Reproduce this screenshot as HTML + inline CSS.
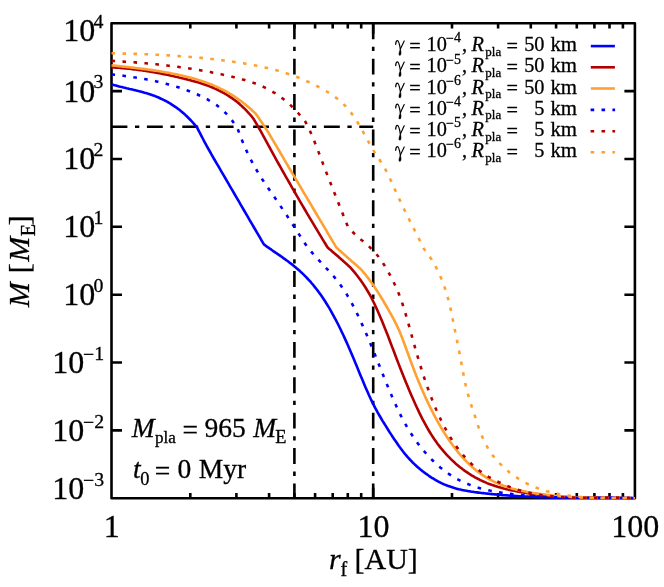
<!DOCTYPE html>
<html><head><meta charset="utf-8"><title>M vs r_f</title>
<style>html,body{margin:0;padding:0;background:#fff;width:664px;height:587px;overflow:hidden;}svg{display:block;will-change:transform;font-family:"Liberation Serif",serif;}text{fill:#000;stroke:#000;stroke-width:0.3px;}.i{font-style:italic;}</style></head><body>
<svg width="664" height="587" viewBox="0 0 664 587">
<rect width="664" height="587" fill="#fff"/>
<defs><clipPath id="c"><rect x="110.2" y="22.0" width="526.0" height="477.5"/></clipPath></defs>
<g stroke="#000" stroke-width="2.6" fill="none">
<rect x="111.5" y="23.3" width="523.4" height="474.9" stroke-linejoin="round"/>
<path d="M111.5 430.4h10.5M634.9 430.4h-10.5M111.5 362.5h10.5M634.9 362.5h-10.5M111.5 294.7h10.5M634.9 294.7h-10.5M111.5 226.8h10.5M634.9 226.8h-10.5M111.5 159.0h10.5M634.9 159.0h-10.5M111.5 91.1h10.5M634.9 91.1h-10.5M190.3 498.2v-5.2M190.3 23.3v5.2M236.4 498.2v-5.2M236.4 23.3v5.2M269.1 498.2v-5.2M269.1 23.3v5.2M294.4 498.2v-5.2M294.4 23.3v5.2M315.1 498.2v-5.2M315.1 23.3v5.2M332.7 498.2v-5.2M332.7 23.3v5.2M347.8 498.2v-5.2M347.8 23.3v5.2M361.2 498.2v-5.2M361.2 23.3v5.2M452.0 498.2v-5.2M452.0 23.3v5.2M498.1 498.2v-5.2M498.1 23.3v5.2M530.8 498.2v-5.2M530.8 23.3v5.2M556.1 498.2v-5.2M556.1 23.3v5.2M576.8 498.2v-5.2M576.8 23.3v5.2M594.4 498.2v-5.2M594.4 23.3v5.2M609.5 498.2v-5.2M609.5 23.3v5.2M622.9 498.2v-5.2M622.9 23.3v5.2M373.2 498.2v-10.5M373.2 23.3v10.5"/>
</g>
<g stroke="#000" stroke-width="2.6" fill="none" stroke-dasharray="15.9 7.6 4.3 7.6">
<path d="M111.5 126.7H373.2" stroke-dashoffset="0.0"/>
<path d="M294.4 23.3V498.2" stroke-dashoffset="0.0"/>
<path d="M373.2 23.3V498.2" stroke-dashoffset="0.0"/>
</g>
<g clip-path="url(#c)" fill="none" stroke-width="2.6" stroke-linejoin="round">
<path d="M111.5 84.4 L113.0 84.8 L114.5 85.2 L116.0 85.6 L117.5 86.0 L119.0 86.4 L120.5 86.8 L122.0 87.1 L123.5 87.5 L125.0 87.8 L126.5 88.2 L128.0 88.5 L129.5 88.9 L131.0 89.2 L132.5 89.6 L134.0 89.9 L135.5 90.3 L137.0 90.7 L138.5 91.1 L140.0 91.4 L141.5 91.8 L143.0 92.2 L144.5 92.7 L146.0 93.1 L147.5 93.6 L149.0 94.0 L150.5 94.5 L152.0 95.0 L153.5 95.6 L155.0 96.1 L156.5 96.7 L158.0 97.3 L159.5 98.0 L161.0 98.7 L162.5 99.4 L164.0 100.1 L165.5 100.9 L167.0 101.7 L168.5 102.5 L170.0 103.4 L171.5 104.3 L173.0 105.3 L174.5 106.3 L176.0 107.3 L177.5 108.4 L179.0 109.6 L180.5 110.8 L182.0 112.0 L183.5 113.3 L185.0 114.6 L186.5 116.0 L188.0 117.5 L189.5 119.0 L191.0 120.5 L192.5 122.2 L194.0 123.8 L195.5 125.6 L197.0 127.4 L198.5 130.3 L200.0 133.2 L201.5 136.1 L203.0 139.0 L204.5 141.8 L206.0 144.6 L207.5 147.3 L209.0 150.0 L210.5 152.7 L212.0 155.3 L213.5 158.0 L215.0 160.5 L216.5 163.1 L218.0 165.7 L219.5 168.2 L221.0 170.8 L222.5 173.3 L224.0 175.9 L225.5 178.5 L227.0 181.1 L228.5 183.7 L230.0 186.3 L231.5 188.8 L233.0 191.4 L234.5 194.0 L236.0 196.6 L237.5 199.2 L239.0 201.7 L240.5 204.3 L242.0 206.9 L243.5 209.5 L245.0 212.0 L246.5 214.6 L248.0 217.2 L249.5 219.8 L251.0 222.3 L252.5 224.9 L254.0 227.5 L255.5 230.0 L257.0 232.6 L258.5 235.2 L260.0 237.7 L261.5 240.3 L263.0 242.9 L263.9 244.4 L265.4 245.5 L266.9 246.6 L268.4 247.6 L269.9 248.7 L271.4 249.7 L272.9 250.8 L274.4 251.8 L275.9 252.8 L277.4 253.9 L278.9 254.9 L280.4 255.9 L281.9 257.0 L283.4 258.1 L284.9 259.1 L286.4 260.2 L287.9 261.3 L289.4 262.5 L290.9 263.6 L292.4 264.8 L293.9 266.0 L295.4 267.2 L296.9 268.5 L298.4 269.8 L299.9 271.1 L301.4 272.5 L302.9 273.9 L304.4 275.4 L305.9 276.9 L307.4 278.5 L308.9 280.1 L310.4 281.7 L311.9 283.5 L313.4 285.2 L314.9 287.1 L316.4 289.0 L317.9 290.9 L319.4 293.0 L320.9 295.1 L322.4 297.3 L323.9 299.5 L325.4 301.8 L326.9 304.2 L328.4 306.7 L329.9 309.2 L331.4 311.9 L332.9 314.6 L334.4 317.3 L335.9 320.1 L337.4 323.0 L338.9 326.0 L340.4 329.0 L341.9 332.2 L343.4 335.3 L344.9 338.6 L346.4 341.9 L347.9 345.2 L349.4 348.7 L350.9 352.2 L352.4 355.7 L353.9 359.3 L355.4 363.0 L356.9 366.6 L358.4 370.3 L359.9 373.9 L361.4 377.5 L362.9 381.1 L364.4 384.7 L365.9 388.2 L367.4 391.6 L368.9 395.0 L370.4 398.2 L371.9 401.4 L373.4 404.4 L374.9 407.3 L376.4 410.1 L377.9 412.9 L379.4 415.5 L380.9 418.0 L382.4 420.6 L383.9 423.0 L385.4 425.4 L386.9 427.8 L388.4 430.2 L389.9 432.6 L391.4 434.9 L392.9 437.2 L394.4 439.4 L395.9 441.6 L397.4 443.8 L398.9 446.0 L400.4 448.0 L401.9 450.0 L403.4 452.0 L404.9 453.9 L406.4 455.6 L407.9 457.4 L409.4 459.0 L410.9 460.6 L412.4 462.2 L413.9 463.6 L415.4 465.1 L416.9 466.4 L418.4 467.7 L419.9 469.0 L421.4 470.2 L422.9 471.4 L424.4 472.6 L425.9 473.7 L427.4 474.7 L428.9 475.8 L430.4 476.8 L431.9 477.8 L433.4 478.7 L434.9 479.6 L436.4 480.5 L437.9 481.3 L439.4 482.1 L440.9 482.9 L442.4 483.6 L443.9 484.3 L445.4 484.9 L446.9 485.5 L448.4 486.1 L449.9 486.6 L451.4 487.1 L452.9 487.6 L454.4 488.1 L455.9 488.5 L457.4 488.9 L458.9 489.3 L460.4 489.6 L461.9 489.9 L463.4 490.2 L464.9 490.5 L466.4 490.8 L467.9 491.1 L469.4 491.3 L470.9 491.6 L472.4 491.8 L473.9 492.0 L475.4 492.2 L476.9 492.4 L478.4 492.6 L479.9 492.8 L481.4 493.0 L482.9 493.1 L484.4 493.3 L485.9 493.5 L487.4 493.6 L488.9 493.8 L490.4 494.0 L491.9 494.1 L493.4 494.3 L494.9 494.4 L496.4 494.5 L497.9 494.7 L499.4 494.8 L500.9 494.9 L502.4 495.1 L503.9 495.2 L505.4 495.3 L506.9 495.4 L508.4 495.5 L509.9 495.6 L511.4 495.7 L512.9 495.8 L514.4 495.9 L515.9 496.0 L517.4 496.1 L518.9 496.2 L520.4 496.3 L521.9 496.4 L523.4 496.4 L524.9 496.5 L526.4 496.6 L527.9 496.6 L529.4 496.7 L530.9 496.8 L532.4 496.8 L533.9 496.9 L535.4 496.9 L536.9 497.0 L538.4 497.0 L539.9 497.1 L541.4 497.1 L542.9 497.2 L544.4 497.2 L545.9 497.3 L547.4 497.3 L548.9 497.3 L550.4 497.4 L551.9 497.4 L553.4 497.4 L554.9 497.5 L556.4 497.5 L557.9 497.5 L559.4 497.5 L560.9 497.6 L562.4 497.6 L563.9 497.6 L565.4 497.6 L566.9 497.6 L568.4 497.7 L569.9 497.7 L571.4 497.7 L572.9 497.7 L574.4 497.7 L575.9 497.7 L577.4 497.7 L578.9 497.7 L580.4 497.8 L581.9 497.8 L583.4 497.8 L584.9 497.8 L586.4 497.8 L587.9 497.8 L589.4 497.8 L590.9 497.8 L592.4 497.8 L593.9 497.8 L595.4 497.8 L596.9 497.8 L598.4 497.8 L599.9 497.9 L601.4 497.9 L602.9 497.9 L604.4 497.9 L605.9 497.9 L607.4 497.9 L608.9 497.9 L610.4 497.9 L611.9 497.9 L613.4 497.9 L614.9 497.9 L616.4 498.0 L617.9 498.0 L619.4 498.0 L620.9 498.0 L622.4 498.0 L623.9 498.0 L625.4 498.0 L626.9 498.1 L628.4 498.1 L629.9 498.1 L631.4 498.1 L632.9 498.2 L634.4 498.2 L634.9 498.2" stroke="#0000ff"/>
<path d="M111.5 67.3 L113.0 67.4 L114.5 67.5 L116.0 67.6 L117.5 67.7 L119.0 67.8 L120.5 67.9 L122.0 68.1 L123.5 68.2 L125.0 68.4 L126.5 68.5 L128.0 68.7 L129.5 68.8 L131.0 69.0 L132.5 69.2 L134.0 69.4 L135.5 69.5 L137.0 69.7 L138.5 69.9 L140.0 70.1 L141.5 70.3 L143.0 70.6 L144.5 70.8 L146.0 71.0 L147.5 71.2 L149.0 71.5 L150.5 71.7 L152.0 72.0 L153.5 72.2 L155.0 72.5 L156.5 72.8 L158.0 73.1 L159.5 73.3 L161.0 73.6 L162.5 73.9 L164.0 74.2 L165.5 74.5 L167.0 74.8 L168.5 75.1 L170.0 75.4 L171.5 75.8 L173.0 76.1 L174.5 76.4 L176.0 76.8 L177.5 77.1 L179.0 77.5 L180.5 77.8 L182.0 78.2 L183.5 78.5 L185.0 78.9 L186.5 79.3 L188.0 79.7 L189.5 80.1 L191.0 80.5 L192.5 80.9 L194.0 81.3 L195.5 81.7 L197.0 82.1 L198.5 82.6 L200.0 83.0 L201.5 83.5 L203.0 84.0 L204.5 84.5 L206.0 85.0 L207.5 85.6 L209.0 86.1 L210.5 86.7 L212.0 87.3 L213.5 88.0 L215.0 88.6 L216.5 89.3 L218.0 90.0 L219.5 90.8 L221.0 91.5 L222.5 92.3 L224.0 93.2 L225.5 94.0 L227.0 94.9 L228.5 95.8 L230.0 96.8 L231.5 97.8 L233.0 98.9 L234.5 100.0 L236.0 101.1 L237.5 102.3 L239.0 103.6 L240.5 104.9 L242.0 106.3 L243.5 107.7 L245.0 109.2 L246.5 110.7 L248.0 112.3 L249.5 114.0 L251.0 115.7 L252.5 117.5 L253.2 118.4 L254.7 120.8 L256.2 123.3 L257.7 125.9 L259.2 128.5 L260.7 131.1 L262.2 133.8 L263.7 136.6 L265.2 139.3 L266.7 142.1 L268.2 144.8 L269.7 147.6 L271.2 150.3 L272.7 153.1 L274.2 155.8 L275.7 158.6 L277.2 161.3 L278.7 164.0 L280.2 166.7 L281.7 169.3 L283.2 172.0 L284.7 174.6 L286.2 177.3 L287.7 179.9 L289.2 182.5 L290.7 185.1 L292.2 187.8 L293.7 190.4 L295.2 193.0 L296.7 195.6 L298.2 198.2 L299.7 200.8 L301.2 203.3 L302.7 205.9 L304.2 208.5 L305.7 211.0 L307.2 213.6 L308.7 216.1 L310.2 218.7 L311.7 221.2 L313.2 223.7 L314.7 226.2 L316.2 228.7 L317.7 231.2 L319.2 233.7 L320.7 236.2 L322.2 238.6 L323.7 241.1 L325.2 243.5 L326.7 246.0 L327.7 247.6 L329.2 248.9 L330.7 250.1 L332.2 251.4 L333.7 252.7 L335.2 254.0 L336.7 255.3 L338.2 256.6 L339.7 257.9 L341.2 259.3 L342.7 260.6 L344.2 261.9 L345.7 263.3 L347.2 264.6 L348.7 266.0 L350.2 267.4 L350.5 267.6 L352.0 269.3 L353.5 271.1 L355.0 272.9 L356.5 274.8 L358.0 276.7 L359.5 278.7 L361.0 280.8 L362.5 282.9 L364.0 285.2 L365.5 287.5 L367.0 290.0 L368.5 292.5 L370.0 295.2 L371.5 298.0 L373.0 301.0 L374.5 304.0 L376.0 307.2 L377.5 310.5 L379.0 313.9 L380.5 317.4 L382.0 321.0 L383.5 324.7 L385.0 328.5 L386.5 332.3 L388.0 336.1 L389.5 340.0 L391.0 344.0 L392.5 347.9 L394.0 351.8 L395.5 355.8 L397.0 359.7 L398.5 363.6 L400.0 367.4 L401.5 371.3 L403.0 375.0 L404.5 378.8 L406.0 382.5 L407.5 386.1 L409.0 389.7 L410.5 393.2 L412.0 396.7 L413.5 400.1 L415.0 403.5 L416.5 406.7 L418.0 409.9 L419.5 413.1 L421.0 416.1 L422.5 419.1 L424.0 421.9 L425.5 424.7 L427.0 427.4 L428.5 430.0 L430.0 432.5 L431.5 434.9 L433.0 437.2 L434.5 439.4 L436.0 441.6 L437.5 443.7 L439.0 445.6 L440.5 447.6 L442.0 449.4 L443.5 451.2 L445.0 452.9 L446.5 454.6 L448.0 456.2 L449.5 457.7 L451.0 459.2 L452.5 460.6 L454.0 462.0 L455.5 463.4 L457.0 464.7 L458.5 465.9 L460.0 467.2 L461.5 468.3 L463.0 469.5 L464.5 470.6 L466.0 471.7 L467.5 472.7 L469.0 473.7 L470.5 474.6 L472.0 475.6 L473.5 476.4 L475.0 477.3 L476.5 478.1 L478.0 478.9 L479.5 479.7 L481.0 480.4 L482.5 481.1 L484.0 481.8 L485.5 482.4 L487.0 483.1 L488.5 483.7 L490.0 484.2 L491.5 484.8 L493.0 485.3 L494.5 485.8 L496.0 486.3 L497.5 486.8 L499.0 487.2 L500.5 487.6 L502.0 488.1 L503.5 488.5 L505.0 488.8 L506.5 489.2 L508.0 489.6 L509.5 489.9 L511.0 490.2 L512.5 490.5 L514.0 490.8 L515.5 491.1 L517.0 491.4 L518.5 491.7 L520.0 492.0 L521.5 492.2 L523.0 492.5 L524.5 492.8 L526.0 493.0 L527.5 493.2 L529.0 493.4 L530.5 493.7 L532.0 493.9 L533.5 494.1 L535.0 494.3 L536.5 494.5 L538.0 494.6 L539.5 494.8 L541.0 495.0 L542.5 495.2 L544.0 495.3 L545.5 495.5 L547.0 495.6 L548.5 495.7 L550.0 495.9 L551.5 496.0 L553.0 496.1 L554.5 496.2 L556.0 496.4 L557.5 496.5 L559.0 496.6 L560.5 496.7 L562.0 496.8 L563.5 496.8 L565.0 496.9 L566.5 497.0 L568.0 497.1 L569.5 497.1 L571.0 497.2 L572.5 497.3 L574.0 497.3 L575.5 497.4 L577.0 497.4 L578.5 497.5 L580.0 497.5 L581.5 497.6 L583.0 497.6 L584.5 497.7 L586.0 497.7 L587.5 497.7 L589.0 497.8 L590.5 497.8 L592.0 497.8 L593.5 497.8 L595.0 497.9 L596.5 497.9 L598.0 497.9 L599.5 497.9 L601.0 497.9 L602.5 497.9 L604.0 498.0 L605.5 498.0 L607.0 498.0 L608.5 498.0 L610.0 498.0 L611.5 498.0 L613.0 498.0 L614.5 498.0 L616.0 498.0 L617.5 498.0 L619.0 498.1 L620.5 498.1 L622.0 498.1 L623.5 498.1 L625.0 498.1 L626.5 498.1 L628.0 498.1 L629.5 498.1 L631.0 498.2 L632.5 498.2 L634.0 498.2 L634.9 498.2" stroke="#b20000"/>
<path d="M111.5 65.3 L113.0 65.5 L114.5 65.6 L116.0 65.8 L117.5 66.0 L119.0 66.1 L120.5 66.3 L122.0 66.5 L123.5 66.6 L125.0 66.8 L126.5 67.0 L128.0 67.1 L129.5 67.3 L131.0 67.5 L132.5 67.6 L134.0 67.8 L135.5 68.0 L137.0 68.2 L138.5 68.4 L140.0 68.5 L141.5 68.7 L143.0 68.9 L144.5 69.1 L146.0 69.3 L147.5 69.5 L149.0 69.7 L150.5 69.9 L152.0 70.1 L153.5 70.4 L155.0 70.6 L156.5 70.8 L158.0 71.0 L159.5 71.3 L161.0 71.5 L162.5 71.8 L164.0 72.0 L165.5 72.3 L167.0 72.5 L168.5 72.8 L170.0 73.1 L171.5 73.4 L173.0 73.7 L174.5 74.0 L176.0 74.3 L177.5 74.6 L179.0 74.9 L180.5 75.3 L182.0 75.6 L183.5 75.9 L185.0 76.3 L186.5 76.7 L188.0 77.0 L189.5 77.4 L191.0 77.8 L192.5 78.2 L194.0 78.6 L195.5 79.1 L197.0 79.5 L198.5 80.0 L200.0 80.4 L201.5 80.9 L203.0 81.4 L204.5 81.9 L206.0 82.5 L207.5 83.0 L209.0 83.6 L210.5 84.2 L212.0 84.8 L213.5 85.4 L215.0 86.1 L216.5 86.7 L218.0 87.4 L219.5 88.1 L221.0 88.9 L222.5 89.6 L224.0 90.4 L225.5 91.2 L227.0 92.0 L228.5 92.9 L230.0 93.8 L231.5 94.7 L233.0 95.6 L234.5 96.6 L236.0 97.6 L237.5 98.6 L239.0 99.7 L240.5 100.8 L242.0 101.9 L243.5 103.0 L245.0 104.2 L246.5 105.4 L248.0 106.7 L249.5 108.0 L251.0 109.3 L252.5 110.7 L254.0 112.1 L255.5 113.5 L255.9 113.9 L257.4 116.0 L258.9 118.2 L260.4 120.4 L261.9 122.6 L263.4 124.9 L264.9 127.2 L266.4 129.5 L267.9 131.9 L269.4 134.3 L270.9 136.8 L272.4 139.3 L273.9 141.8 L275.4 144.3 L276.9 146.9 L278.4 149.5 L279.9 152.0 L281.4 154.6 L282.9 157.2 L284.4 159.8 L285.9 162.4 L287.4 164.9 L288.9 167.5 L290.4 170.0 L291.9 172.6 L293.4 175.1 L294.9 177.6 L296.4 180.2 L297.9 182.7 L299.4 185.2 L300.9 187.7 L302.4 190.3 L303.9 192.8 L305.4 195.3 L306.9 197.9 L308.4 200.4 L309.9 202.9 L311.4 205.4 L312.9 208.0 L314.4 210.5 L315.9 213.0 L317.4 215.6 L318.9 218.1 L320.4 220.6 L321.9 223.1 L323.4 225.7 L324.9 228.2 L326.4 230.7 L327.9 233.3 L329.4 235.8 L330.9 238.3 L332.4 240.9 L333.9 243.4 L335.4 245.9 L336.4 247.6 L337.9 248.9 L339.4 250.3 L340.9 251.6 L342.4 252.9 L343.9 254.3 L345.4 255.6 L346.9 256.9 L348.4 258.2 L349.9 259.6 L351.4 260.9 L352.9 262.2 L354.4 263.5 L355.9 264.8 L357.4 266.1 L358.9 267.4 L360.4 268.7 L360.5 268.8 L362.0 270.5 L363.5 272.3 L365.0 274.1 L366.5 276.0 L368.0 277.9 L369.5 279.9 L371.0 282.0 L372.5 284.1 L374.0 286.3 L375.5 288.5 L377.0 290.8 L378.5 293.1 L380.0 295.5 L381.5 298.0 L383.0 300.4 L384.5 303.0 L386.0 305.5 L387.5 308.1 L389.0 310.8 L390.5 313.4 L392.0 316.2 L393.5 318.9 L395.0 321.8 L396.5 324.8 L398.0 328.0 L399.5 331.3 L401.0 334.9 L402.5 338.7 L404.0 342.7 L405.5 346.8 L407.0 351.0 L408.5 355.1 L410.0 359.3 L411.5 363.3 L413.0 367.3 L414.5 371.2 L416.0 375.1 L417.5 378.8 L419.0 382.5 L420.5 386.1 L422.0 389.6 L423.5 393.0 L425.0 396.3 L426.5 399.6 L428.0 402.8 L429.5 405.9 L431.0 408.9 L432.5 411.9 L434.0 414.8 L435.5 417.6 L437.0 420.4 L438.5 423.1 L440.0 425.7 L441.5 428.3 L443.0 430.7 L444.5 433.2 L446.0 435.5 L447.5 437.8 L449.0 440.0 L450.5 442.2 L452.0 444.3 L453.5 446.3 L455.0 448.3 L456.5 450.2 L458.0 452.1 L459.5 453.9 L461.0 455.6 L462.5 457.3 L464.0 459.0 L465.5 460.5 L467.0 462.1 L468.5 463.5 L470.0 465.0 L471.5 466.3 L473.0 467.7 L474.5 468.9 L476.0 470.2 L477.5 471.4 L479.0 472.5 L480.5 473.6 L482.0 474.6 L483.5 475.7 L485.0 476.6 L486.5 477.6 L488.0 478.5 L489.5 479.3 L491.0 480.1 L492.5 480.9 L494.0 481.7 L495.5 482.4 L497.0 483.1 L498.5 483.7 L500.0 484.4 L501.5 485.0 L503.0 485.5 L504.5 486.1 L506.0 486.6 L507.5 487.1 L509.0 487.6 L510.5 488.0 L512.0 488.5 L513.5 488.9 L515.0 489.3 L516.5 489.7 L518.0 490.0 L519.5 490.4 L521.0 490.7 L522.5 491.0 L524.0 491.3 L525.5 491.6 L527.0 491.9 L528.5 492.2 L530.0 492.4 L531.5 492.7 L533.0 492.9 L534.5 493.2 L536.0 493.4 L537.5 493.6 L539.0 493.8 L540.5 494.0 L542.0 494.2 L543.5 494.4 L545.0 494.6 L546.5 494.8 L548.0 495.0 L549.5 495.1 L551.0 495.3 L552.5 495.5 L554.0 495.6 L555.5 495.8 L557.0 495.9 L558.5 496.0 L560.0 496.1 L561.5 496.3 L563.0 496.4 L564.5 496.5 L566.0 496.6 L567.5 496.7 L569.0 496.8 L570.5 496.9 L572.0 497.0 L573.5 497.0 L575.0 497.1 L576.5 497.2 L578.0 497.2 L579.5 497.3 L581.0 497.4 L582.5 497.4 L584.0 497.5 L585.5 497.5 L587.0 497.6 L588.5 497.6 L590.0 497.7 L591.5 497.7 L593.0 497.7 L594.5 497.8 L596.0 497.8 L597.5 497.8 L599.0 497.8 L600.5 497.9 L602.0 497.9 L603.5 497.9 L605.0 497.9 L606.5 497.9 L608.0 498.0 L609.5 498.0 L611.0 498.0 L612.5 498.0 L614.0 498.0 L615.5 498.0 L617.0 498.0 L618.5 498.1 L620.0 498.1 L621.5 498.1 L623.0 498.1 L624.5 498.1 L626.0 498.1 L627.5 498.1 L629.0 498.1 L630.5 498.2 L632.0 498.2 L633.5 498.2 L634.9 498.2" stroke="#ffa033"/>
<path d="M111.5 74.3 L113.0 74.5 L114.5 74.7 L116.0 74.8 L117.5 75.0 L119.0 75.2 L120.5 75.4 L122.0 75.6 L123.5 75.8 L125.0 76.0 L126.5 76.2 L128.0 76.4 L129.5 76.6 L131.0 76.8 L132.5 77.0 L134.0 77.3 L135.5 77.5 L137.0 77.7 L138.5 78.0 L140.0 78.2 L141.5 78.5 L143.0 78.7 L144.5 79.0 L146.0 79.3 L147.5 79.6 L149.0 79.8 L150.5 80.1 L152.0 80.4 L153.5 80.8 L155.0 81.1 L156.5 81.4 L158.0 81.7 L159.5 82.1 L161.0 82.4 L162.5 82.8 L164.0 83.2 L165.5 83.6 L167.0 84.0 L168.5 84.4 L170.0 84.8 L171.5 85.2 L173.0 85.7 L174.5 86.1 L176.0 86.6 L177.5 87.0 L179.0 87.5 L180.5 88.0 L182.0 88.5 L183.5 89.1 L185.0 89.6 L186.5 90.1 L188.0 90.7 L189.5 91.3 L191.0 91.9 L192.5 92.5 L194.0 93.1 L195.5 93.7 L197.0 94.3 L198.5 95.0 L200.0 95.7 L201.5 96.4 L203.0 97.1 L204.5 97.8 L206.0 98.6 L207.5 99.4 L209.0 100.3 L210.5 101.1 L212.0 102.1 L213.5 103.0 L215.0 104.1 L216.5 105.1 L218.0 106.3 L219.5 107.5 L221.0 108.7 L222.5 110.1 L224.0 111.5 L225.5 112.9 L227.0 114.5 L228.5 116.1 L230.0 117.9 L231.5 119.7 L233.0 121.7 L234.5 123.9 L236.0 126.1 L237.5 128.6 L237.7 128.9 L239.2 133.0 L240.7 136.9 L242.2 140.7 L243.7 144.3 L245.2 147.8 L246.7 151.1 L248.2 154.3 L249.7 157.3 L251.2 160.3 L252.7 163.1 L254.2 165.9 L255.7 168.5 L257.2 171.1 L258.7 173.6 L260.2 176.0 L261.7 178.4 L263.2 180.7 L264.7 183.0 L266.2 185.2 L267.7 187.4 L269.2 189.6 L270.7 191.7 L272.2 193.9 L273.7 196.1 L275.2 198.2 L276.7 200.4 L278.2 202.6 L279.7 204.8 L281.2 207.1 L282.7 209.3 L284.2 211.6 L285.7 213.9 L287.2 216.1 L288.7 218.4 L290.2 220.7 L291.7 223.0 L293.2 225.3 L294.7 227.6 L296.2 230.0 L297.7 232.3 L299.2 234.6 L300.7 236.9 L302.2 239.3 L303.7 241.6 L305.2 243.9 L306.7 245.9 L308.2 247.9 L309.7 249.8 L311.2 251.6 L312.7 253.4 L314.2 255.1 L315.7 256.8 L317.2 258.5 L318.7 260.1 L320.2 261.7 L321.7 263.3 L323.2 264.9 L324.7 266.5 L326.2 268.1 L327.7 269.7 L329.2 271.3 L330.7 273.0 L332.2 274.7 L333.7 276.4 L335.2 278.2 L336.7 280.1 L338.2 282.0 L339.7 284.0 L341.2 286.0 L342.7 288.2 L344.2 290.4 L345.7 292.7 L347.2 295.2 L348.7 297.7 L350.2 300.4 L351.7 303.1 L353.2 305.9 L354.7 308.8 L356.2 311.8 L357.7 314.9 L359.2 318.1 L360.7 321.3 L362.2 324.6 L363.7 327.9 L365.2 331.4 L366.7 334.8 L368.2 338.3 L369.7 341.9 L371.2 345.5 L372.7 349.1 L374.2 352.8 L375.7 356.5 L377.2 360.2 L378.7 364.0 L380.2 367.7 L381.7 371.4 L383.2 375.2 L384.7 378.9 L386.2 382.6 L387.7 386.2 L389.2 389.9 L390.7 393.4 L392.2 396.9 L393.7 400.4 L395.2 403.7 L396.7 407.0 L398.2 410.2 L399.7 413.3 L401.2 416.3 L402.7 419.2 L404.2 422.0 L405.7 424.7 L407.2 427.3 L408.7 429.8 L410.2 432.2 L411.7 434.6 L413.2 436.8 L414.7 439.0 L416.2 441.1 L417.7 443.2 L419.2 445.2 L420.7 447.1 L422.2 449.0 L423.7 450.8 L425.2 452.5 L426.7 454.2 L428.2 455.9 L429.7 457.5 L431.2 459.0 L432.7 460.5 L434.2 462.0 L435.7 463.4 L437.2 464.8 L438.7 466.1 L440.2 467.4 L441.7 468.6 L443.2 469.8 L444.7 470.9 L446.2 472.1 L447.7 473.1 L449.2 474.2 L450.7 475.1 L452.2 476.1 L453.7 477.0 L455.2 477.9 L456.7 478.8 L458.2 479.6 L459.7 480.4 L461.2 481.1 L462.7 481.8 L464.2 482.5 L465.7 483.2 L467.2 483.8 L468.7 484.4 L470.2 485.0 L471.7 485.6 L473.2 486.1 L474.7 486.6 L476.2 487.1 L477.7 487.6 L479.2 488.0 L480.7 488.4 L482.2 488.8 L483.7 489.2 L485.2 489.6 L486.7 489.9 L488.2 490.2 L489.7 490.6 L491.2 490.9 L492.7 491.1 L494.2 491.4 L495.7 491.7 L497.2 491.9 L498.7 492.2 L500.2 492.4 L501.7 492.7 L503.2 492.9 L504.7 493.1 L506.2 493.3 L507.7 493.5 L509.2 493.7 L510.7 493.9 L512.2 494.1 L513.7 494.2 L515.2 494.4 L516.7 494.6 L518.2 494.7 L519.7 494.9 L521.2 495.0 L522.7 495.2 L524.2 495.3 L525.7 495.5 L527.2 495.6 L528.7 495.7 L530.2 495.8 L531.7 496.0 L533.2 496.1 L534.7 496.2 L536.2 496.3 L537.7 496.4 L539.2 496.5 L540.7 496.5 L542.2 496.6 L543.7 496.7 L545.2 496.8 L546.7 496.9 L548.2 496.9 L549.7 497.0 L551.2 497.1 L552.7 497.1 L554.2 497.2 L555.7 497.2 L557.2 497.3 L558.7 497.3 L560.2 497.4 L561.7 497.4 L563.2 497.4 L564.7 497.5 L566.2 497.5 L567.7 497.5 L569.2 497.6 L570.7 497.6 L572.2 497.6 L573.7 497.6 L575.2 497.7 L576.7 497.7 L578.2 497.7 L579.7 497.7 L581.2 497.7 L582.7 497.7 L584.2 497.8 L585.7 497.8 L587.2 497.8 L588.7 497.8 L590.2 497.8 L591.7 497.8 L593.2 497.8 L594.7 497.8 L596.2 497.8 L597.7 497.8 L599.2 497.8 L600.7 497.9 L602.2 497.9 L603.7 497.9 L605.2 497.9 L606.7 497.9 L608.2 497.9 L609.7 497.9 L611.2 497.9 L612.7 497.9 L614.2 497.9 L615.7 497.9 L617.2 497.9 L618.7 498.0 L620.2 498.0 L621.7 498.0 L623.2 498.0 L624.7 498.0 L626.2 498.0 L627.7 498.1 L629.2 498.1 L630.7 498.1 L632.2 498.1 L633.7 498.2 L634.9 498.2" stroke="#0000ff" stroke-dasharray="3.6 7.4"/>
<path d="M111.5 60.8 L113.0 60.9 L114.5 61.0 L116.0 61.1 L117.5 61.2 L119.0 61.3 L120.5 61.4 L122.0 61.5 L123.5 61.6 L125.0 61.7 L126.5 61.8 L128.0 61.9 L129.5 62.0 L131.0 62.1 L132.5 62.2 L134.0 62.3 L135.5 62.4 L137.0 62.6 L138.5 62.7 L140.0 62.8 L141.5 62.9 L143.0 63.1 L144.5 63.2 L146.0 63.3 L147.5 63.5 L149.0 63.6 L150.5 63.7 L152.0 63.9 L153.5 64.0 L155.0 64.2 L156.5 64.3 L158.0 64.5 L159.5 64.7 L161.0 64.8 L162.5 65.0 L164.0 65.2 L165.5 65.3 L167.0 65.5 L168.5 65.7 L170.0 65.9 L171.5 66.0 L173.0 66.2 L174.5 66.4 L176.0 66.6 L177.5 66.8 L179.0 67.0 L180.5 67.2 L182.0 67.4 L183.5 67.6 L185.0 67.8 L186.5 68.1 L188.0 68.3 L189.5 68.5 L191.0 68.7 L192.5 69.0 L194.0 69.2 L195.5 69.5 L197.0 69.7 L198.5 70.0 L200.0 70.2 L201.5 70.5 L203.0 70.7 L204.5 71.0 L206.0 71.3 L207.5 71.5 L209.0 71.8 L210.5 72.1 L212.0 72.4 L213.5 72.7 L215.0 73.0 L216.5 73.3 L218.0 73.6 L219.5 73.9 L221.0 74.2 L222.5 74.6 L224.0 74.9 L225.5 75.2 L227.0 75.5 L228.5 75.9 L230.0 76.2 L231.5 76.6 L233.0 76.9 L234.5 77.3 L236.0 77.7 L237.5 78.1 L239.0 78.4 L240.5 78.8 L242.0 79.3 L243.5 79.7 L245.0 80.1 L246.5 80.6 L248.0 81.0 L249.5 81.5 L251.0 82.0 L252.5 82.5 L254.0 83.1 L255.5 83.6 L257.0 84.2 L258.5 84.8 L260.0 85.4 L261.5 86.1 L263.0 86.7 L264.5 87.4 L266.0 88.2 L267.5 88.9 L269.0 89.7 L270.5 90.6 L272.0 91.4 L273.5 92.3 L275.0 93.2 L276.5 94.2 L278.0 95.2 L279.5 96.2 L281.0 97.3 L282.5 98.4 L284.0 99.6 L285.5 100.8 L287.0 102.1 L288.5 103.4 L290.0 104.7 L291.5 106.1 L293.0 107.6 L294.5 109.1 L296.0 110.7 L297.5 112.3 L299.0 114.0 L300.5 115.7 L302.0 117.5 L303.5 119.4 L305.0 121.3 L305.6 122.1 L307.1 124.9 L308.6 127.9 L310.1 131.2 L311.6 134.6 L313.1 138.2 L314.6 141.9 L316.1 145.7 L317.6 149.5 L319.1 153.4 L320.6 157.4 L322.1 161.3 L323.6 165.3 L325.1 169.2 L326.6 173.1 L328.1 176.9 L329.6 180.8 L331.1 184.6 L332.6 188.3 L334.1 192.1 L335.6 195.9 L337.1 199.6 L338.6 203.4 L340.1 207.1 L341.6 210.9 L343.1 214.7 L344.6 218.5 L346.1 222.3 L347.6 226.1 L347.9 226.9 L349.4 228.6 L350.9 230.2 L352.4 231.8 L353.9 233.2 L355.4 234.6 L356.9 236.0 L358.4 237.3 L359.9 238.6 L361.4 239.9 L362.9 241.1 L364.4 242.4 L365.9 243.7 L367.4 245.0 L368.9 246.4 L370.4 247.8 L371.9 249.3 L373.4 250.8 L374.9 252.5 L376.4 254.2 L377.9 256.0 L379.4 258.0 L380.9 260.1 L382.4 262.2 L383.9 264.5 L385.4 266.9 L386.9 269.5 L388.4 272.1 L389.9 274.8 L391.4 277.7 L392.9 280.7 L394.4 283.8 L395.9 287.0 L397.4 290.4 L398.9 294.0 L400.4 298.0 L401.9 302.2 L403.4 306.7 L404.9 311.5 L406.4 316.6 L407.9 321.8 L409.4 327.2 L410.9 332.7 L412.4 338.1 L413.9 343.5 L415.4 348.9 L416.9 354.1 L418.4 359.2 L419.9 364.2 L421.4 369.0 L422.9 373.7 L424.4 378.3 L425.9 382.7 L427.4 387.0 L428.9 391.1 L430.4 395.2 L431.9 399.1 L433.4 402.8 L434.9 406.5 L436.4 410.0 L437.9 413.4 L439.4 416.7 L440.9 419.9 L442.4 422.9 L443.9 425.9 L445.4 428.7 L446.9 431.4 L448.4 434.1 L449.9 436.6 L451.4 439.0 L452.9 441.4 L454.4 443.6 L455.9 445.8 L457.4 447.9 L458.9 449.9 L460.4 451.8 L461.9 453.6 L463.4 455.4 L464.9 457.1 L466.4 458.8 L467.9 460.4 L469.4 461.9 L470.9 463.3 L472.4 464.8 L473.9 466.1 L475.4 467.4 L476.9 468.7 L478.4 469.8 L479.9 471.0 L481.4 472.1 L482.9 473.2 L484.4 474.2 L485.9 475.2 L487.4 476.1 L488.9 477.0 L490.4 477.9 L491.9 478.7 L493.4 479.5 L494.9 480.3 L496.4 481.1 L497.9 481.8 L499.4 482.5 L500.9 483.2 L502.4 483.9 L503.9 484.6 L505.4 485.2 L506.9 485.8 L508.4 486.4 L509.9 487.0 L511.4 487.5 L512.9 488.0 L514.4 488.6 L515.9 489.0 L517.4 489.5 L518.9 490.0 L520.4 490.4 L521.9 490.9 L523.4 491.3 L524.9 491.7 L526.4 492.0 L527.9 492.4 L529.4 492.7 L530.9 493.1 L532.4 493.4 L533.9 493.7 L535.4 494.0 L536.9 494.2 L538.4 494.5 L539.9 494.7 L541.4 495.0 L542.9 495.2 L544.4 495.4 L545.9 495.6 L547.4 495.8 L548.9 496.0 L550.4 496.1 L551.9 496.3 L553.4 496.4 L554.9 496.6 L556.4 496.7 L557.9 496.8 L559.4 496.9 L560.9 497.0 L562.4 497.1 L563.9 497.2 L565.4 497.2 L566.9 497.3 L568.4 497.4 L569.9 497.4 L571.4 497.5 L572.9 497.5 L574.4 497.6 L575.9 497.6 L577.4 497.6 L578.9 497.6 L580.4 497.6 L581.9 497.7 L583.4 497.7 L584.9 497.7 L586.4 497.7 L587.9 497.7 L589.4 497.7 L590.9 497.7 L592.4 497.7 L593.9 497.7 L595.4 497.7 L596.9 497.6 L598.4 497.6 L599.9 497.6 L601.4 497.6 L602.9 497.6 L604.4 497.6 L605.9 497.6 L607.4 497.6 L608.9 497.6 L610.4 497.6 L611.9 497.6 L613.4 497.6 L614.9 497.6 L616.4 497.6 L617.9 497.6 L619.4 497.7 L620.9 497.7 L622.4 497.7 L623.9 497.7 L625.4 497.8 L626.9 497.8 L628.4 497.9 L629.9 498.0 L631.4 498.0 L632.9 498.1 L634.4 498.2 L634.9 498.2" stroke="#b20000" stroke-dasharray="3.6 7.4"/>
<path d="M111.5 53.3 L113.0 53.3 L114.5 53.4 L116.0 53.4 L117.5 53.4 L119.0 53.5 L120.5 53.5 L122.0 53.5 L123.5 53.6 L125.0 53.6 L126.5 53.6 L128.0 53.7 L129.5 53.7 L131.0 53.8 L132.5 53.8 L134.0 53.9 L135.5 53.9 L137.0 53.9 L138.5 54.0 L140.0 54.0 L141.5 54.1 L143.0 54.2 L144.5 54.2 L146.0 54.3 L147.5 54.3 L149.0 54.4 L150.5 54.5 L152.0 54.5 L153.5 54.6 L155.0 54.7 L156.5 54.7 L158.0 54.8 L159.5 54.9 L161.0 55.0 L162.5 55.0 L164.0 55.1 L165.5 55.2 L167.0 55.3 L168.5 55.4 L170.0 55.5 L171.5 55.6 L173.0 55.7 L174.5 55.8 L176.0 55.9 L177.5 56.0 L179.0 56.1 L180.5 56.2 L182.0 56.3 L183.5 56.4 L185.0 56.5 L186.5 56.6 L188.0 56.7 L189.5 56.9 L191.0 57.0 L192.5 57.1 L194.0 57.2 L195.5 57.4 L197.0 57.5 L198.5 57.7 L200.0 57.8 L201.5 57.9 L203.0 58.1 L204.5 58.2 L206.0 58.4 L207.5 58.6 L209.0 58.7 L210.5 58.9 L212.0 59.0 L213.5 59.2 L215.0 59.4 L216.5 59.6 L218.0 59.7 L219.5 59.9 L221.0 60.1 L222.5 60.3 L224.0 60.5 L225.5 60.7 L227.0 60.9 L228.5 61.1 L230.0 61.3 L231.5 61.5 L233.0 61.7 L234.5 62.0 L236.0 62.2 L237.5 62.4 L239.0 62.6 L240.5 62.9 L242.0 63.1 L243.5 63.3 L245.0 63.6 L246.5 63.8 L248.0 64.1 L249.5 64.4 L251.0 64.6 L252.5 64.9 L254.0 65.2 L255.5 65.5 L257.0 65.8 L258.5 66.1 L260.0 66.4 L261.5 66.7 L263.0 67.0 L264.5 67.4 L266.0 67.7 L267.5 68.0 L269.0 68.4 L270.5 68.8 L272.0 69.1 L273.5 69.5 L275.0 69.9 L276.5 70.3 L278.0 70.7 L279.5 71.2 L281.0 71.6 L282.5 72.1 L284.0 72.5 L285.5 73.0 L287.0 73.5 L288.5 74.0 L290.0 74.5 L291.5 75.0 L293.0 75.5 L294.5 76.1 L296.0 76.7 L297.5 77.2 L299.0 77.8 L300.5 78.4 L302.0 79.0 L303.5 79.7 L305.0 80.3 L306.5 81.0 L308.0 81.7 L309.5 82.3 L311.0 83.1 L312.5 83.8 L314.0 84.5 L315.5 85.3 L317.0 86.1 L318.5 86.9 L320.0 87.7 L321.5 88.5 L323.0 89.3 L324.5 90.2 L326.0 91.1 L327.5 92.0 L329.0 92.9 L330.5 93.9 L332.0 94.9 L333.5 95.9 L335.0 97.0 L336.5 98.1 L338.0 99.3 L339.5 100.5 L341.0 101.8 L342.5 103.2 L344.0 104.7 L345.5 106.2 L347.0 107.9 L348.5 109.6 L350.0 111.4 L351.5 113.4 L353.0 115.4 L354.5 117.6 L356.0 119.8 L357.5 122.2 L359.0 124.6 L360.5 127.2 L362.0 129.8 L363.5 132.6 L365.0 135.3 L366.5 138.1 L368.0 140.9 L369.5 143.6 L371.0 146.3 L372.5 148.9 L374.0 151.4 L375.5 153.7 L377.0 156.0 L378.5 158.3 L380.0 160.5 L381.5 162.8 L383.0 165.2 L384.5 167.8 L386.0 170.5 L387.5 173.4 L389.0 176.5 L390.5 179.7 L392.0 183.0 L393.5 186.4 L395.0 189.7 L396.5 193.1 L398.0 196.3 L399.5 199.6 L401.0 202.8 L402.5 205.9 L404.0 209.0 L405.5 212.1 L407.0 215.1 L408.5 218.1 L410.0 221.1 L411.5 224.1 L413.0 227.0 L414.5 230.0 L416.0 232.9 L417.5 235.9 L419.0 238.9 L420.5 241.9 L422.0 245.0 L423.5 248.1 L423.9 248.9 L425.4 250.8 L426.9 252.8 L428.4 254.8 L429.9 257.0 L431.4 259.3 L432.9 261.7 L434.4 264.3 L435.9 267.0 L437.4 269.9 L438.9 273.0 L440.4 276.4 L441.9 279.9 L443.4 283.7 L444.9 288.0 L446.4 292.6 L447.9 297.9 L449.4 303.7 L450.9 310.3 L452.4 317.6 L453.9 325.3 L455.4 332.8 L456.9 340.1 L458.4 347.5 L459.9 355.1 L461.4 363.2 L462.9 371.4 L464.4 379.2 L465.9 386.2 L467.4 392.3 L468.9 397.6 L470.4 402.5 L471.9 407.1 L473.4 411.5 L474.9 416.0 L476.4 420.7 L477.9 425.3 L479.4 429.6 L480.9 433.5 L482.4 437.1 L483.9 440.5 L485.4 443.6 L486.9 446.4 L488.4 449.0 L489.9 451.4 L491.4 453.6 L492.9 455.6 L494.4 457.5 L495.9 459.3 L497.4 461.0 L498.9 462.5 L500.4 464.1 L501.9 465.5 L503.4 466.9 L504.9 468.3 L506.4 469.6 L507.9 470.9 L509.4 472.2 L510.9 473.4 L512.4 474.5 L513.9 475.6 L515.4 476.7 L516.9 477.7 L518.4 478.7 L519.9 479.6 L521.4 480.5 L522.9 481.4 L524.4 482.2 L525.9 483.0 L527.4 483.8 L528.9 484.5 L530.4 485.2 L531.9 485.9 L533.4 486.5 L534.9 487.1 L536.4 487.7 L537.9 488.3 L539.4 488.8 L540.9 489.3 L542.4 489.8 L543.9 490.3 L545.4 490.7 L546.9 491.2 L548.4 491.6 L549.9 492.0 L551.4 492.3 L552.9 492.7 L554.4 493.1 L555.9 493.4 L557.4 493.7 L558.9 494.0 L560.4 494.3 L561.9 494.6 L563.4 494.9 L564.9 495.1 L566.4 495.4 L567.9 495.6 L569.4 495.8 L570.9 496.0 L572.4 496.2 L573.9 496.4 L575.4 496.5 L576.9 496.7 L578.4 496.8 L579.9 497.0 L581.4 497.1 L582.9 497.2 L584.4 497.3 L585.9 497.4 L587.4 497.5 L588.9 497.6 L590.4 497.7 L591.9 497.8 L593.4 497.8 L594.9 497.9 L596.4 498.0 L597.9 498.0 L599.4 498.0 L600.9 498.1 L602.4 498.1 L603.9 498.1 L605.4 498.2 L606.9 498.2 L608.4 498.2 L609.9 498.2 L611.4 498.2 L612.9 498.2 L614.4 498.2 L615.9 498.2 L617.4 498.2 L618.9 498.2 L620.4 498.2 L621.9 498.2 L623.4 498.2 L624.9 498.2 L626.4 498.2 L627.9 498.2 L629.4 498.2 L630.9 498.2 L632.4 498.2 L633.9 498.2 L634.9 498.2" stroke="#ffa033" stroke-dasharray="3.6 7.4"/>
</g>
<g font-size="20.3">
<g transform="translate(394.6 51.1)" stroke="#000" fill="none" stroke-linecap="round" stroke-linejoin="round"><path d="M1.1 -6.8C1.2 -9.2 2.0 -10.5 2.9 -10.5C4.3 -10.5 4.9 -7 5.8 -2" stroke-width="1.25"/><path d="M9.6 -10.2L5.8 -2" stroke-width="1.15"/><path d="M5.8 -2.6C4.7 0.4 4 2.4 4.3 3.7C4.7 4.7 5.9 4.6 6.3 3.5C6.8 1.9 6.5 0 5.8 -2.6Z" fill="#000" stroke-width="0.3"/></g>
<text x="409.3" y="52.9">=</text>
<text x="426.5" y="51.1">10</text>
<text x="446.0" y="43.3" font-size="14.0">−</text>
<text x="453.9" y="42.3" font-size="14.0">4</text>
<text x="462.0" y="51.1">,</text>
<text x="471.4" y="51.1" class="i">R</text>
<text x="485.3" y="55.7" font-size="13.0">pla</text>
<text x="506.4" y="52.9">=</text>
<text x="524.2" y="51.1">50</text>
<text x="550.4" y="51.1" textLength="26.6" lengthAdjust="spacingAndGlyphs">km</text>
</g>
<path d="M590.8 46.1H614.9" stroke="#0000ff" stroke-width="2.6"/>
<g font-size="20.3">
<g transform="translate(394.6 72.3)" stroke="#000" fill="none" stroke-linecap="round" stroke-linejoin="round"><path d="M1.1 -6.8C1.2 -9.2 2.0 -10.5 2.9 -10.5C4.3 -10.5 4.9 -7 5.8 -2" stroke-width="1.25"/><path d="M9.6 -10.2L5.8 -2" stroke-width="1.15"/><path d="M5.8 -2.6C4.7 0.4 4 2.4 4.3 3.7C4.7 4.7 5.9 4.6 6.3 3.5C6.8 1.9 6.5 0 5.8 -2.6Z" fill="#000" stroke-width="0.3"/></g>
<text x="409.3" y="74.1">=</text>
<text x="426.5" y="72.3">10</text>
<text x="446.0" y="64.5" font-size="14.0">−</text>
<text x="453.9" y="63.5" font-size="14.0">5</text>
<text x="462.0" y="72.3">,</text>
<text x="471.4" y="72.3" class="i">R</text>
<text x="485.3" y="76.9" font-size="13.0">pla</text>
<text x="506.4" y="74.1">=</text>
<text x="524.2" y="72.3">50</text>
<text x="550.4" y="72.3" textLength="26.6" lengthAdjust="spacingAndGlyphs">km</text>
</g>
<path d="M590.8 67.3H614.9" stroke="#b20000" stroke-width="2.6"/>
<g font-size="20.3">
<g transform="translate(394.6 93.5)" stroke="#000" fill="none" stroke-linecap="round" stroke-linejoin="round"><path d="M1.1 -6.8C1.2 -9.2 2.0 -10.5 2.9 -10.5C4.3 -10.5 4.9 -7 5.8 -2" stroke-width="1.25"/><path d="M9.6 -10.2L5.8 -2" stroke-width="1.15"/><path d="M5.8 -2.6C4.7 0.4 4 2.4 4.3 3.7C4.7 4.7 5.9 4.6 6.3 3.5C6.8 1.9 6.5 0 5.8 -2.6Z" fill="#000" stroke-width="0.3"/></g>
<text x="409.3" y="95.3">=</text>
<text x="426.5" y="93.5">10</text>
<text x="446.0" y="85.7" font-size="14.0">−</text>
<text x="453.9" y="84.7" font-size="14.0">6</text>
<text x="462.0" y="93.5">,</text>
<text x="471.4" y="93.5" class="i">R</text>
<text x="485.3" y="98.1" font-size="13.0">pla</text>
<text x="506.4" y="95.3">=</text>
<text x="524.2" y="93.5">50</text>
<text x="550.4" y="93.5" textLength="26.6" lengthAdjust="spacingAndGlyphs">km</text>
</g>
<path d="M590.8 88.5H614.9" stroke="#ffa033" stroke-width="2.6"/>
<g font-size="20.3">
<g transform="translate(394.6 114.7)" stroke="#000" fill="none" stroke-linecap="round" stroke-linejoin="round"><path d="M1.1 -6.8C1.2 -9.2 2.0 -10.5 2.9 -10.5C4.3 -10.5 4.9 -7 5.8 -2" stroke-width="1.25"/><path d="M9.6 -10.2L5.8 -2" stroke-width="1.15"/><path d="M5.8 -2.6C4.7 0.4 4 2.4 4.3 3.7C4.7 4.7 5.9 4.6 6.3 3.5C6.8 1.9 6.5 0 5.8 -2.6Z" fill="#000" stroke-width="0.3"/></g>
<text x="409.3" y="116.5">=</text>
<text x="426.5" y="114.7">10</text>
<text x="446.0" y="106.9" font-size="14.0">−</text>
<text x="453.9" y="105.9" font-size="14.0">4</text>
<text x="462.0" y="114.7">,</text>
<text x="471.4" y="114.7" class="i">R</text>
<text x="485.3" y="119.3" font-size="13.0">pla</text>
<text x="506.4" y="116.5">=</text>
<text x="534.3" y="114.7">5</text>
<text x="550.4" y="114.7" textLength="26.6" lengthAdjust="spacingAndGlyphs">km</text>
</g>
<path d="M590.6 109.9H615.1" stroke="#0000ff" stroke-width="2.6" stroke-dasharray="3.6 7.3"/>
<g font-size="20.3">
<g transform="translate(394.6 135.9)" stroke="#000" fill="none" stroke-linecap="round" stroke-linejoin="round"><path d="M1.1 -6.8C1.2 -9.2 2.0 -10.5 2.9 -10.5C4.3 -10.5 4.9 -7 5.8 -2" stroke-width="1.25"/><path d="M9.6 -10.2L5.8 -2" stroke-width="1.15"/><path d="M5.8 -2.6C4.7 0.4 4 2.4 4.3 3.7C4.7 4.7 5.9 4.6 6.3 3.5C6.8 1.9 6.5 0 5.8 -2.6Z" fill="#000" stroke-width="0.3"/></g>
<text x="409.3" y="137.7">=</text>
<text x="426.5" y="135.9">10</text>
<text x="446.0" y="128.1" font-size="14.0">−</text>
<text x="453.9" y="127.1" font-size="14.0">5</text>
<text x="462.0" y="135.9">,</text>
<text x="471.4" y="135.9" class="i">R</text>
<text x="485.3" y="140.5" font-size="13.0">pla</text>
<text x="506.4" y="137.7">=</text>
<text x="534.3" y="135.9">5</text>
<text x="550.4" y="135.9" textLength="26.6" lengthAdjust="spacingAndGlyphs">km</text>
</g>
<path d="M590.6 131.2H615.1" stroke="#b20000" stroke-width="2.6" stroke-dasharray="3.6 7.3"/>
<g font-size="20.3">
<g transform="translate(394.6 157.1)" stroke="#000" fill="none" stroke-linecap="round" stroke-linejoin="round"><path d="M1.1 -6.8C1.2 -9.2 2.0 -10.5 2.9 -10.5C4.3 -10.5 4.9 -7 5.8 -2" stroke-width="1.25"/><path d="M9.6 -10.2L5.8 -2" stroke-width="1.15"/><path d="M5.8 -2.6C4.7 0.4 4 2.4 4.3 3.7C4.7 4.7 5.9 4.6 6.3 3.5C6.8 1.9 6.5 0 5.8 -2.6Z" fill="#000" stroke-width="0.3"/></g>
<text x="409.3" y="158.9">=</text>
<text x="426.5" y="157.1">10</text>
<text x="446.0" y="149.3" font-size="14.0">−</text>
<text x="453.9" y="148.3" font-size="14.0">6</text>
<text x="462.0" y="157.1">,</text>
<text x="471.4" y="157.1" class="i">R</text>
<text x="485.3" y="161.7" font-size="13.0">pla</text>
<text x="506.4" y="158.9">=</text>
<text x="534.3" y="157.1">5</text>
<text x="550.4" y="157.1" textLength="26.6" lengthAdjust="spacingAndGlyphs">km</text>
</g>
<path d="M590.6 152.3H615.1" stroke="#ffa033" stroke-width="2.6" stroke-dasharray="3.6 7.3"/>
<text x="63.2" y="41.1" font-size="32.0">10</text>
<text x="93.6" y="27.9" font-size="19.8">4</text>
<text x="63.2" y="101.5" font-size="32.0">10</text>
<text x="93.6" y="88.3" font-size="19.8">3</text>
<text x="63.2" y="169.4" font-size="32.0">10</text>
<text x="93.6" y="156.2" font-size="19.8">2</text>
<text x="63.2" y="237.2" font-size="32.0">10</text>
<text x="93.6" y="224.0" font-size="19.8">1</text>
<text x="63.2" y="305.1" font-size="32.0">10</text>
<text x="93.6" y="291.9" font-size="19.8">0</text>
<text x="52.2" y="372.9" font-size="32.0">10</text>
<text x="83.0" y="361.2" font-size="19.8">−</text>
<text x="94.2" y="359.7" font-size="19.8">1</text>
<text x="52.2" y="440.8" font-size="32.0">10</text>
<text x="83.0" y="429.1" font-size="19.8">−</text>
<text x="94.2" y="427.6" font-size="19.8">2</text>
<text x="52.2" y="498.9" font-size="32.0">10</text>
<text x="83.0" y="487.2" font-size="19.8">−</text>
<text x="94.2" y="485.7" font-size="19.8">3</text>
<text x="111.8" y="536.6" font-size="32.0" text-anchor="middle">1</text>
<text x="373.5" y="536.6" font-size="32.0" text-anchor="middle">10</text>
<text x="635.2" y="536.6" font-size="32.0" text-anchor="middle">100</text>
<text x="329.0" y="568.9" font-size="30.0" class="i">r</text>
<text x="340.4" y="576.0" font-size="20.1">f</text>
<text x="354.5" y="568.9" font-size="30.0">[AU]</text>
<g transform="translate(28.6 307.2) rotate(-90)">
<text x="0" y="0" font-size="30.0" class="i">M</text>
<text x="34.0" y="0" font-size="30.0">[</text>
<text x="45.5" y="0" font-size="30.0" class="i">M</text>
<text x="71.0" y="6.8" font-size="20.1">E</text>
<text x="81.8" y="0" font-size="30.0">]</text>
</g>
<text x="131.8" y="437.0" font-size="27.5" class="i">M</text>
<text x="155.0" y="443.1" font-size="17.1">pla</text>
<text x="182.4" y="439.1" font-size="27.5">=</text>
<text x="204.6" y="437.0" font-size="27.5">965</text>
<text x="253.2" y="437.0" font-size="27.5" class="i">M</text>
<text x="275.2" y="443.1" font-size="18.4">E</text>
<text x="133.0" y="478.2" font-size="27.5" class="i">t</text>
<text x="140.3" y="484.5" font-size="18.4">0</text>
<text x="154.7" y="480.3" font-size="27.5">=</text>
<text x="177.6" y="478.2" font-size="27.5">0</text>
<text x="198.8" y="478.2" font-size="27.5">Myr</text>
</svg></body></html>
